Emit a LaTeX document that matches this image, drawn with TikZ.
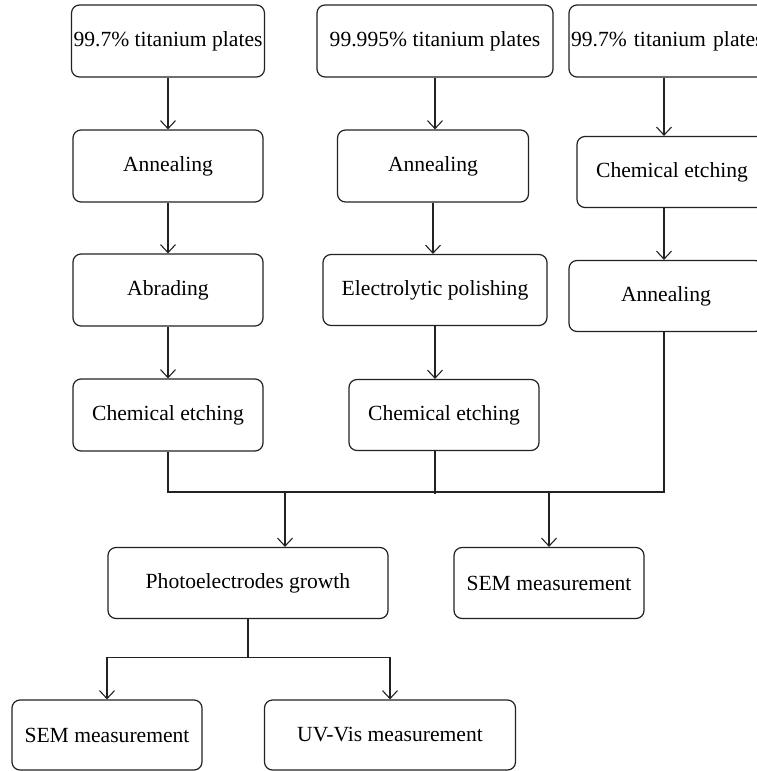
\documentclass[tikz,border=0pt]{standalone}
\usepackage{fontspec}
\setmainfont{Liberation Serif}
\usepackage{tikz}
\usetikzlibrary{positioning, arrows.meta, calc}
\definecolor{tiLine}{HTML}{222222}
\tikzset{
    tiBox/.style={
        rectangle,
        draw=tiLine,
        line width=1.2pt,
        rounded corners=8pt,
        minimum height=72pt,
        minimum width=190pt,
        font=\fontsize{21.6}{25}\selectfont,
        align=center,
        inner sep=2pt
    },
    % Connectors
    tiLink/.style={line width=1.1pt, draw=tiLine},
    tiArrow/.style={tiLink, -{Straight Barb[length=8pt,width=15pt,line width=1.1pt]}}
}
\begin{document}
\begin{tikzpicture}[x=1pt, y=-1pt]
    \useasboundingbox (0,0) rectangle (757,771);
    % left route
    \node[tiBox] (plateA) at (168,41) {99.7\% titanium plates};
    \node[tiBox] (annealA) at (168,166) {Annealing};
    \node[tiBox] (abrade) at (168,290) {Abrading};
    \node[tiBox] (etchA) at (168,415) {Chemical etching};
    % middle route
    \node[tiBox, minimum width=236pt] (plateB) at (435,41) {99.995\% titanium plates};
    \node[tiBox, minimum width=191pt] (annealB) at (433,166) {Annealing};
    \node[tiBox, minimum width=224pt, minimum height=71pt] (polish) at (435,290) {Electrolytic polishing};
    \node[tiBox, minimum height=71pt] (etchB) at (444,415) {Chemical etching};
    % right route (runs off the page edge)
    \node[tiBox, text width=196pt, align=left] (plateC) at (669,41) {99.7\% titanium plates};
    \node[tiBox, minimum height=71pt] (etchC) at (672,172) {Chemical etching};
    \node[tiBox, minimum width=194pt, minimum height=71pt] (annealC) at (666,296) {Annealing};
    % results
    \node[tiBox, minimum width=280pt, minimum height=71pt] (growth) at (248,583) {Photoelectrodes growth};
    \node[tiBox, minimum height=71pt] (semTop) at (549,583) {SEM measurement};
    \node[tiBox, minimum height=70pt] (semBot) at (107,735) {SEM measurement};
    \node[tiBox, minimum width=251pt, minimum height=70pt] (uvvis) at (390,735) {UV-Vis measurement};

    \coordinate (colC) at (664,0);
    \draw[tiArrow] (plateA) -- (annealA);
    \draw[tiArrow] (annealA) -- (abrade);
    \draw[tiArrow] (abrade) -- (etchA);
    \draw[tiArrow] (plateB.south) -- (plateB.south |- annealB.north);
    \draw[tiArrow] (annealB.south) -- (annealB.south |- polish.north);
    \draw[tiArrow] (polish.south) -- (polish.south |- etchB.north);
    \draw[tiArrow] (colC |- plateC.south) -- (colC |- etchC.north);
    \draw[tiArrow] (colC |- etchC.south) -- (colC |- annealC.north);

    % joining line
    \coordinate (merge) at (0,492);
    \coordinate (mergeL) at (285,492);
    \draw[tiLink] (etchA.south) |- (merge -| colC) -- (colC |- annealC.south);
    \draw[tiLink] (polish.south |- etchB.south) -- ++(0,43);
    \draw[tiArrow] (mergeL) -- (mergeL |- growth.north);
    \draw[tiArrow] (merge -| semTop.north) -- (semTop.north);

    \draw[tiLink] (growth.south) -- ++(0,38) coordinate (split);
    \draw[tiArrow] (split) -| (semBot.north);
    \draw[tiArrow] (split) -| (uvvis.north);
\end{tikzpicture}
\end{document}
